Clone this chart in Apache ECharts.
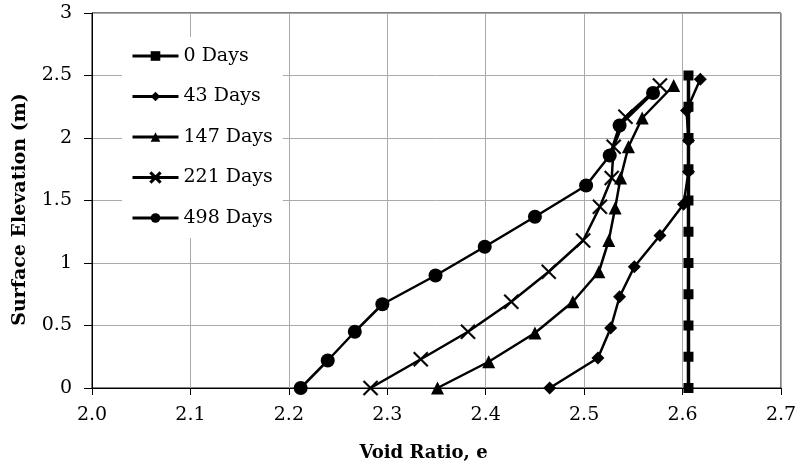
<!DOCTYPE html>
<html><head><meta charset="utf-8">
<script src="https://cdn.jsdelivr.net/npm/echarts@6/dist/echarts.min.js"></script>
<style>html,body{margin:0;padding:0;background:#fff}#c{width:795px;height:469px}</style>
</head><body><div id="c"></div>
<script>
const seriesNames = ['0 Days','43 Days','147 Days','221 Days','498 Days'];
const d0x = [2.606,2.606,2.606,2.606,2.606,2.606,2.606,2.606,2.606,2.606,2.606];
const d0y = [0,0.25,0.5,0.75,1,1.25,1.5,1.75,2,2.25,2.5];
const d43x = [2.465,2.514,2.527,2.536,2.551,2.577,2.601,2.606,2.606,2.604,2.618];
const d43y = [0,0.24,0.48,0.73,0.97,1.22,1.47,1.73,1.98,2.22,2.47];
const d147x = [2.351,2.403,2.45,2.4885,2.515,2.525,2.5315,2.537,2.545,2.559,2.591];
const d147y = [0,0.21,0.44,0.69,0.93,1.18,1.44,1.68,1.93,2.16,2.42];
const d221x = [2.283,2.334,2.382,2.426,2.464,2.499,2.516,2.528,2.53,2.542,2.577];
const d221y = [0,0.23,0.45,0.69,0.93,1.18,1.45,1.68,1.93,2.17,2.42];
const d498x = [2.212,2.2395,2.267,2.295,2.349,2.399,2.45,2.502,2.526,2.536,2.57];
const d498y = [0,0.22,0.45,0.67,0.9,1.13,1.37,1.62,1.86,2.1,2.36];
const xTicks = [2.0,2.1,2.2,2.3,2.4,2.5,2.6,2.7];
const yTicks = [0,0.5,1,1.5,2,2.5,3];

const pairs = (xs, ys) => xs.map((x, i) => [x, ys[i]]);
const FONT = 'DejaVu Serif';
const xSym = 'path://M0,0.8L0.8,0L5,4.2L9.2,0L10,0.8L5.8,5L10,9.2L9.2,10L5,5.8L0.8,10L0,9.2L4.2,5Z';
const defs = [
  {data: pairs(d0x, d0y), symbol: 'rect', size: 10, lw: 3.5},
  {data: pairs(d43x, d43y), symbol: 'diamond', size: 13, lw: 2.5},
  {data: pairs(d147x, d147y), symbol: 'triangle', size: 13, lw: 2.5},
  {data: pairs(d221x, d221y), symbol: xSym, size: 15, lw: 2.5},
  {data: pairs(d498x, d498y), symbol: 'circle', size: 14, lw: 2.5}
];
const chart = echarts.init(document.getElementById('c'));
chart.setOption({
  animation: false,
  backgroundColor: '#fff',
  grid: {left: 92, right: 14, top: 13, bottom: 81, show: true, borderColor: '#000', borderWidth: 1,
    containLabel: false, outerBoundsMode: 'none'},
  legend: {
    orient: 'vertical', left: 122, top: 37, itemWidth: 46, itemHeight: 12, itemGap: 20.5,
    padding: [9, 10, 10, 9], backgroundColor: '#fff',
    lineStyle: {width: 3},
    textStyle: {fontFamily: FONT, fontSize: 19, lineHeight: 20, color: '#000'},
    data: seriesNames
  },
  xAxis: {
    type: 'value', min: 2.0, max: 2.7, interval: 0.1,
    name: 'Void Ratio, e', nameLocation: 'middle', nameGap: 56,
    nameTextStyle: {fontFamily: FONT, fontSize: 18, fontWeight: 'bold', color: '#000', padding: [0, 26, 0, 0]},
    axisLine: {lineStyle: {color: '#000', width: 1}},
    axisTick: {show: true, length: 7, lineStyle: {color: '#000'}},
    axisLabel: {fontFamily: FONT, fontSize: 19, color: '#000', margin: 18,
      formatter: v => xTicks.some(t => Math.abs(t - v) < 1e-6) ? v.toFixed(1) : ''},
    splitLine: {show: true, lineStyle: {color: '#aaa', width: 1}}
  },
  yAxis: {
    type: 'value', min: 0, max: 3, interval: 0.5,
    name: 'Surface Elevation (m)', nameLocation: 'middle', nameGap: 62,
    nameTextStyle: {fontFamily: FONT, fontSize: 19, fontWeight: 'bold', color: '#000', padding: [0, 18, 0, 0]},
    axisLine: {show: true, lineStyle: {color: '#000', width: 1}},
    axisTick: {show: true, length: 8, lineStyle: {color: '#000'}},
    axisLabel: {fontFamily: FONT, fontSize: 19, color: '#000', margin: 20,
      formatter: v => yTicks.some(t => Math.abs(t - v) < 1e-6) ? String(v) : ''},
    splitLine: {show: true, lineStyle: {color: '#aaa', width: 1}}
  },
  series: defs.map((d, i) => ({
    name: seriesNames[i], type: 'line', data: d.data,
    symbol: d.symbol, symbolSize: d.size, showAllSymbol: true,
    lineStyle: {color: '#000', width: d.lw},
    itemStyle: {color: '#000', borderColor: '#000', borderWidth: i === 3 ? 0.5 : 0},
    z: 2 + i
  }))
});
</script></body></html>
